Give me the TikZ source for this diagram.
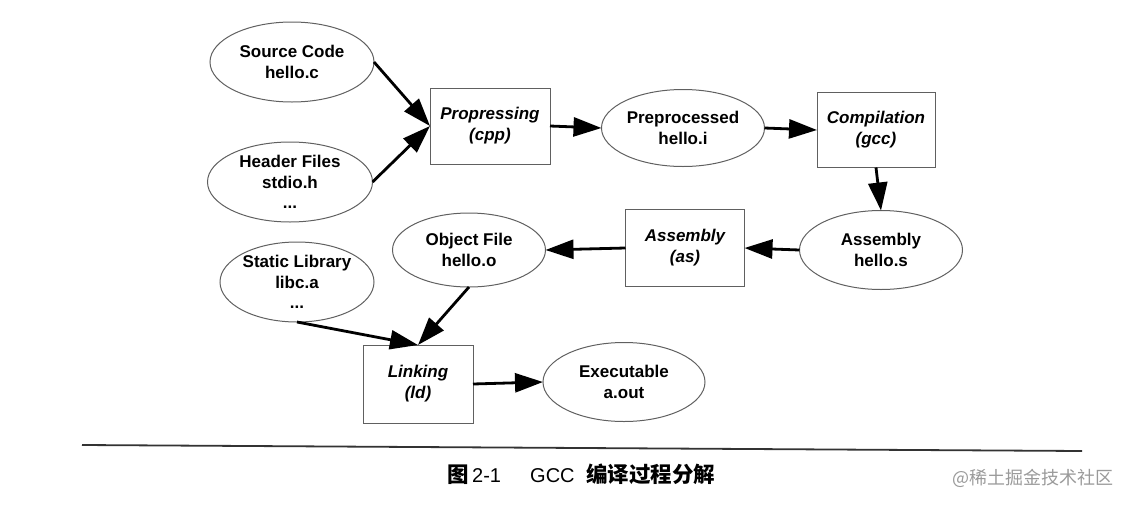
\documentclass[tikz,border=0pt]{standalone}
\usepackage{fontspec}
\setmainfont{Liberation Sans}
\newfontfamily\cjk{Noto Sans CJK SC}
\usetikzlibrary{shapes.geometric,arrows.meta}
\definecolor{edgegray}{HTML}{606060}
\definecolor{wmgray}{HTML}{9A9A9A}
\tikzset{
  file/.style={ellipse,draw=edgegray,line width=1pt,inner sep=0pt,outer sep=0pt,
    align=center,font=\bfseries\fontsize{17}{20.5}\selectfont},
  tool/.style={rectangle,draw=edgegray,line width=1pt,inner sep=0pt,outer sep=0pt,
    align=center,font=\bfseries\itshape\fontsize{17}{21}\selectfont},
  arr/.style={line width=2.8pt,-{Triangle[length=28pt,width=19pt]}},
  cappart/.style={anchor=base west,inner sep=0pt},
  capcjk/.style={cappart,font=\cjk\bfseries\fontsize{21.5}{24}\selectfont},
  caplat/.style={cappart,font=\fontsize{20}{22}\selectfont}
}
\begin{document}
\begin{tikzpicture}[x=1pt,y=-1pt]
\useasboundingbox (0,0) rectangle (1128,504);
% nodes
\node[file,minimum width=164pt,minimum height=80pt] (src) at (292,62) {Source Code\\hello.c};
\node[file,minimum width=165pt,minimum height=80pt] (hdr) at (290,182) {Header Files\\stdio.h\\...};
\node[tool,minimum width=120pt,minimum height=76pt] (cpp) at (490,126) {Propressing\\(cpp)};
\node[file,minimum width=163pt,minimum height=77pt] (pre) at (683,128) {Preprocessed\\hello.i};
\node[tool,minimum width=118pt,minimum height=75pt] (gcc) at (876,130) {Compilation\\(gcc)};
\node[file,minimum width=163pt,minimum height=79pt] (asms) at (881,250) {Assembly\\hello.s};
\node[tool,minimum width=119pt,minimum height=77pt] (as) at (685,248) {Assembly\\(as)};
\node[file,minimum width=153pt,minimum height=74pt] (obj) at (469,250) {Object File\\hello.o};
\node[file,minimum width=154pt,minimum height=80pt] (lib) at (297,282) {Static Library\\libc.a\\...};
\node[tool,minimum width=110pt,minimum height=78pt] (ld) at (418,384) {Linking\\(ld)};
\node[file,minimum width=162pt,minimum height=79pt] (exe) at (624,382) {Executable\\a.out};
% connectors
\draw[arr] (src.east) -- (cpp.west);
\draw[arr] (hdr.east) -- (cpp.west);
\draw[arr] (cpp.east) -- (pre.west);
\draw[arr] (pre.east) -- (gcc.west);
\draw[arr] (gcc.south) -- (asms.north);
\draw[arr] (asms.west) -- (as.east);
\draw[arr] (as.west) -- (obj.east);
\draw[arr] (obj.south) -- (ld.north);
\draw[arr] (lib.south) -- (ld.north);
\draw[arr] (ld.east) -- (exe.west);
% caption rule
\coordinate (rl) at (82,445);
\coordinate (rr) at (1082,451);
\draw[line width=1.8pt,color=black!80] (rl) -- (rr);
\node[capcjk] (cap1) at (447,482) {图};
\node[caplat] (cap2) at (472,482) {2-1};
\node[caplat] (cap3) at (530,482) {GCC};
\node[capcjk] (cap4) at (586,482) {编译过程分解};
\node[font=\cjk\fontsize{18}{20}\selectfont,text=wmgray,anchor=west,inner sep=0pt] (wm) at (952,478)
  {@稀土掘金技术社区};
\end{tikzpicture}
\end{document}
